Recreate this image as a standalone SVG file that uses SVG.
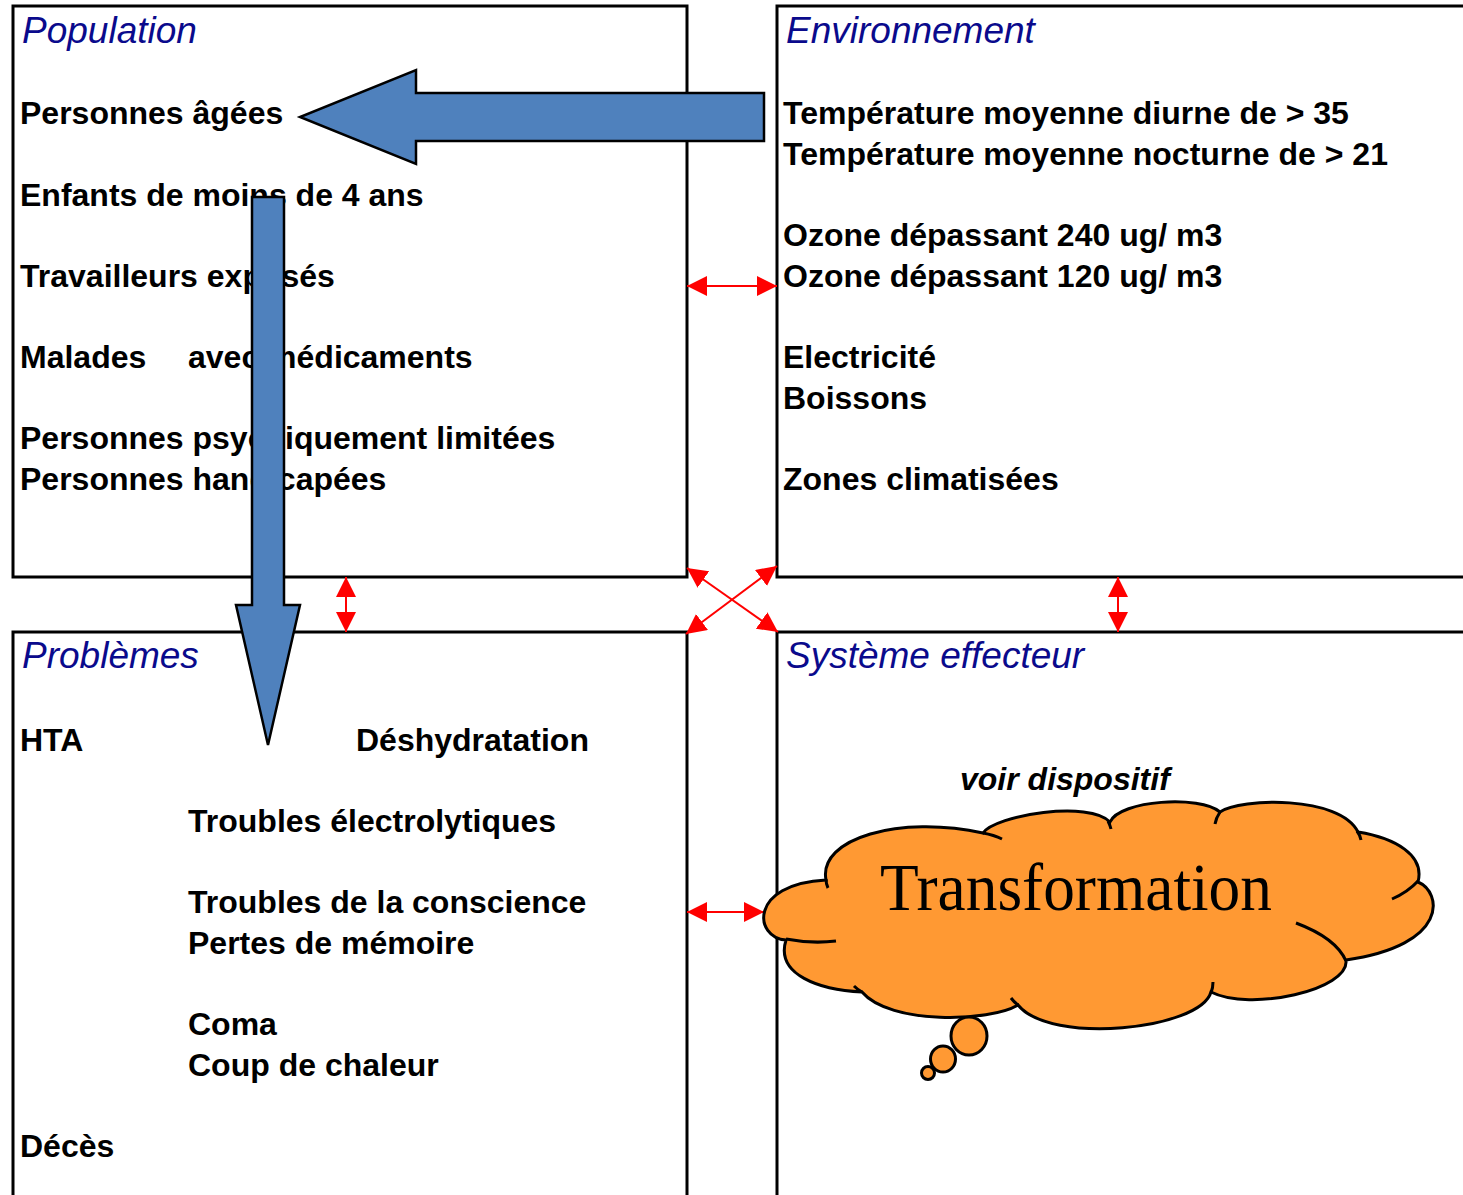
<svg xmlns="http://www.w3.org/2000/svg" width="1463" height="1195" viewBox="0 0 1463 1195">
<style>
.frame{stroke:#000;stroke-width:3;fill:none}
.title{font-family:"Liberation Sans",Arial,sans-serif;font-style:italic;font-size:37px;fill:#0A0A8C}
.t{font-family:"Liberation Sans",Arial,sans-serif;font-weight:bold;font-size:32px;fill:#000}
.big{fill:#4F81BD;stroke:#000;stroke-width:2.5;stroke-linejoin:miter}
.red{stroke:#FF0000;stroke-width:2;fill:none;marker-start:url(#rh);marker-end:url(#rh)}
.cloud{fill:#FF9933;stroke:#000;stroke-width:3}
.inner{fill:none;stroke:#000;stroke-width:3}
</style>
<defs>
<marker id="rh" viewBox="0 0 20 20" markerWidth="20" markerHeight="20" markerUnits="userSpaceOnUse" refX="20" refY="10" orient="auto-start-reverse">
<path d="M0,0 L20,10 L0,20 z" fill="#FF0000"/>
</marker>
</defs>
<rect width="1463" height="1195" fill="#fff"/>

<g id="population">
<path class="frame" d="M13,6 H687 V577 H13 Z"/>
<text class="title" x="22" y="43">Population</text>
<text class="t" x="20" y="124">Personnes âgées</text>
<text class="t" x="20" y="206">Enfants de moins de 4 ans</text>
<text class="t" x="20" y="287">Travailleurs exposés</text>
<text class="t" x="20" y="368">Malades</text>
<text class="t" x="188" y="368">avec médicaments</text>
<text class="t" x="20" y="449">Personnes psychiquement limitées</text>
<text class="t" x="20" y="490">Personnes handicapées</text>
</g>

<g id="environnement">
<path class="frame" d="M1463,6 H777 V577 H1463"/>
<text class="title" x="786" y="43">Environnement</text>
<text class="t" x="783" y="124">Température moyenne diurne de &gt; 35</text>
<text class="t" x="783" y="165">Température moyenne nocturne de &gt; 21</text>
<text class="t" x="783" y="246">Ozone dépassant 240 ug/ m3</text>
<text class="t" x="783" y="287">Ozone dépassant 120 ug/ m3</text>
<text class="t" x="783" y="368">Electricité</text>
<text class="t" x="783" y="409">Boissons</text>
<text class="t" x="783" y="490">Zones climatisées</text>
</g>

<g id="problemes">
<path class="frame" d="M13,1197 V632 H687 V1197"/>
<text class="title" x="22" y="668">Problèmes</text>
<text class="t" x="20" y="751">HTA</text>
<text class="t" x="356" y="751">Déshydratation</text>
<text class="t" x="188" y="832">Troubles électrolytiques</text>
<text class="t" x="188" y="913">Troubles de la conscience</text>
<text class="t" x="188" y="954">Pertes de mémoire</text>
<text class="t" x="188" y="1035">Coma</text>
<text class="t" x="188" y="1076">Coup de chaleur</text>
<text class="t" x="20" y="1157">Décès</text>
</g>

<g id="systeme">
<path class="frame" d="M1463,632 H777 V1197"/>
<text class="title" x="786" y="668">Système effecteur</text>
<text class="t" x="960" y="790" style="font-style:italic;font-size:32px">voir dispositif</text>
</g>

<g id="connectors">
<line class="red" x1="687" y1="286" x2="777" y2="286"/>
<line class="red" x1="687" y1="912" x2="764" y2="912"/>
<line class="red" x1="346" y1="577" x2="346" y2="632"/>
<line class="red" x1="1118" y1="577" x2="1118" y2="632"/>
<line class="red" x1="687" y1="568" x2="778" y2="632"/>
<line class="red" x1="777" y1="566" x2="686" y2="634"/>
<polygon id="arrow-env-pop" class="big" points="764,93 416,93 416,70 300,117 416,164 416,141 764,141"/>
<polygon id="arrow-pop-prob" class="big" points="252,197 284,197 284,605 300,605 268,745 236,605 252,605"/>
</g>

<g id="cloud">
<path class="cloud" d="M786,940 C754,938 748,884 826,880 C818,838 900,815 983,833 C995,815 1090,800 1110,822 C1120,800 1200,795 1220,812 C1240,798 1340,795 1358,832 C1395,838 1425,855 1418,882 C1442,892 1450,945 1346,960 C1350,990 1250,1012 1211,992 C1200,1030 1050,1045 1018,1005 C990,1022 890,1025 862,992 C820,990 775,975 786,940 Z"/>
<path class="inner" d="M786,939 Q812,944 836,941"/>
<path class="inner" d="M826,879 Q826,884 828,888"/>
<path class="inner" d="M983,833 Q994,835 1002,839"/>
<path class="inner" d="M1108,821 Q1110,825 1111,829"/>
<path class="inner" d="M1220,812 Q1216,818 1215,824"/>
<path class="inner" d="M1357,831 Q1360,835 1361,840"/>
<path class="inner" d="M1418,881 Q1408,892 1392,899"/>
<path class="inner" d="M1296,923 Q1336,938 1346,961"/>
<path class="inner" d="M1211,993 Q1213,988 1213,982"/>
<path class="inner" d="M1018,1005 Q1014,1002 1011,998"/>
<path class="inner" d="M862,992 Q858,990 854,986"/>
<ellipse class="cloud" cx="969" cy="1036" rx="18" ry="19"/>
<ellipse class="cloud" cx="943" cy="1059" rx="12.5" ry="13"/>
<ellipse class="cloud" cx="928" cy="1073" rx="6.5" ry="6.5"/>
<text x="880" y="910" textLength="392" lengthAdjust="spacingAndGlyphs" style="font-family:'Liberation Serif','Times New Roman',serif;font-size:68px;fill:#000">Transformation</text>
</g>
</svg>
